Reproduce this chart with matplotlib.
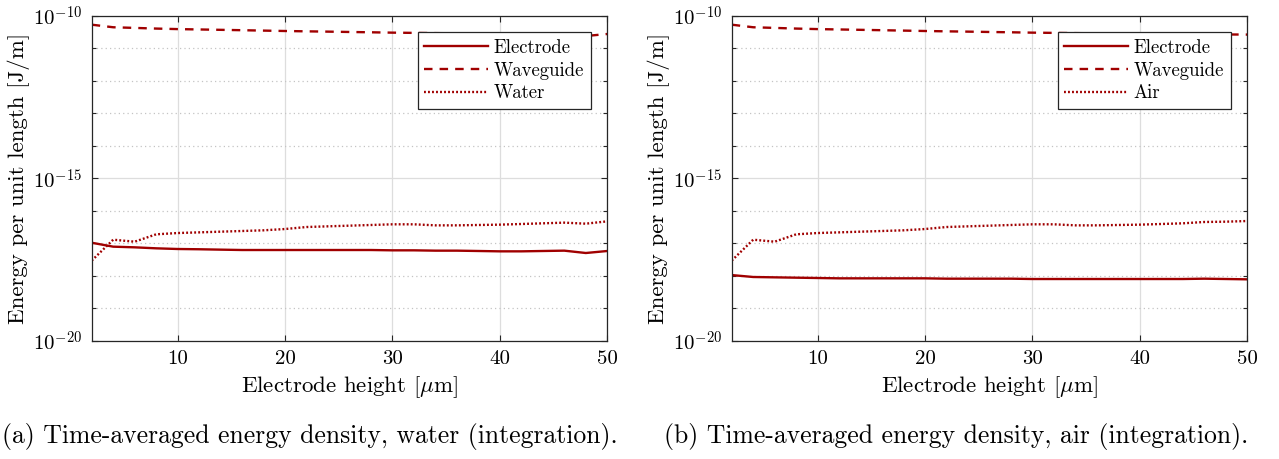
import matplotlib
matplotlib.use("Agg")
import matplotlib.pyplot as plt

plt.rcParams['font.family'] = ['cmr10']
plt.rcParams['mathtext.fontset'] = 'cm'
plt.rcParams['axes.formatter.use_mathtext'] = True

# ---- data ----
height = [2, 4, 6, 8, 10, 12, 14, 16, 18, 20, 22, 24, 26, 28, 30,
          32, 34, 36, 38, 40, 42, 44, 46, 48, 50]

water_electrode = [1.04e-17, 7.87e-18, 7.51e-18, 7.0e-18, 6.67e-18, 6.55e-18, 6.37e-18,
                   6.21e-18, 6.21e-18, 6.21e-18, 6.21e-18, 6.21e-18, 6.21e-18, 6.21e-18,
                   6.07e-18, 6.07e-18, 5.93e-18, 5.93e-18, 5.79e-18, 5.65e-18, 5.65e-18,
                   5.79e-18, 5.93e-18, 5.02e-18, 5.79e-18]
water_waveguide = [5.4e-11, 4.5e-11, 4.3e-11, 4.1e-11, 3.95e-11, 3.85e-11, 3.75e-11,
                   3.65e-11, 3.55e-11, 3.45e-11, 3.37e-11, 3.3e-11, 3.22e-11, 3.15e-11,
                   3.07e-11, 3.02e-11, 2.97e-11, 2.93e-11, 2.9e-11, 2.86e-11, 2.82e-11,
                   2.78e-11, 2.74e-11, 2.42e-11, 2.79e-11]
water_medium = [2.92e-18, 1.29e-17, 1.12e-17, 1.89e-17, 2.07e-17, 2.17e-17, 2.28e-17,
                2.39e-17, 2.51e-17, 2.75e-17, 3.17e-17, 3.33e-17, 3.49e-17, 3.66e-17,
                3.84e-17, 3.84e-17, 3.57e-17, 3.57e-17, 3.66e-17, 3.75e-17, 3.93e-17,
                4.12e-17, 4.32e-17, 4.02e-17, 4.74e-17]

air_electrode = [1.05e-18, 9.16e-19, 8.94e-19, 8.73e-19, 8.53e-19, 8.33e-19, 8.33e-19,
                 8.33e-19, 8.33e-19, 8.33e-19, 8.13e-19, 8.13e-19, 8.13e-19, 8.13e-19,
                 7.94e-19, 7.94e-19, 7.94e-19, 7.94e-19, 7.94e-19, 7.94e-19, 7.94e-19,
                 7.94e-19, 8.13e-19, 7.94e-19, 7.76e-19]
air_waveguide = [5.4e-11, 4.5e-11, 4.3e-11, 4.1e-11, 3.95e-11, 3.85e-11, 3.75e-11,
                 3.65e-11, 3.55e-11, 3.45e-11, 3.37e-11, 3.3e-11, 3.22e-11, 3.15e-11,
                 3.07e-11, 3.02e-11, 2.97e-11, 2.93e-11, 2.9e-11, 2.86e-11, 2.82e-11,
                 2.78e-11, 2.74e-11, 2.7e-11, 2.68e-11]
air_medium = [2.92e-18, 1.29e-17, 1.12e-17, 1.89e-17, 2.07e-17, 2.17e-17, 2.28e-17,
              2.39e-17, 2.51e-17, 2.75e-17, 3.17e-17, 3.33e-17, 3.49e-17, 3.66e-17,
              3.84e-17, 3.84e-17, 3.57e-17, 3.57e-17, 3.66e-17, 3.75e-17, 3.93e-17,
              4.12e-17, 4.53e-17, 4.63e-17, 4.85e-17]

xticks = [10, 20, 30, 40, 50]
ymajor = [1e-20, 1e-15, 1e-10]
ymajor_labels = [r'$10^{-20}$', r'$10^{-15}$', r'$10^{-10}$']
yminor = [1e-19, 1e-18, 1e-17, 1e-16, 1e-14, 1e-13, 1e-12, 1e-11]

panels = [
    (water_electrode, water_waveguide, water_medium, 'Water',
     '(a) Time-averaged energy density, water (integration).'),
    (air_electrode, air_waveguide, air_medium, 'Air',
     '(b) Time-averaged energy density, air (integration).'),
]

W, H = 1279, 459
fig = plt.figure(figsize=(W / 100, H / 100), dpi=100)

color = '#a00000'
spine_c = '#262626'
tick_fs = 15
label_fs = 16.5
cap_fs = 18.5

ax_lefts = [91.7, 731.7]
ax_w = 515.6
ax_top, ax_bot = 16.0, 340.7
caption_x = [309.5, 956.5]

for i, (el, wg, med, medname, cap) in enumerate(panels):
    ax = fig.add_axes([ax_lefts[i] / W, (H - ax_bot) / H, ax_w / W, (ax_bot - ax_top) / H])
    ax.plot(height, el, color=color, lw=1.7, ls='-', label='Electrode')
    ax.plot(height, wg, color=color, lw=1.7, ls=(0, (3.6, 3.0)), label='Waveguide')
    ax.plot(height, med, color=color, lw=1.7, ls=(0, (0.8, 0.9)), label=medname)
    ax.set_yscale('log')
    ax.set_xlim(2, 50)
    ax.set_ylim(1e-20, 1e-10)
    ax.set_xticks(xticks)
    ax.set_xticklabels([str(t) for t in xticks])
    ax.set_yticks(ymajor)
    ax.set_yticklabels(ymajor_labels)
    ax.set_yticks(yminor, minor=True)
    ax.set_yticklabels([], minor=True)
    ax.xaxis.set_minor_locator(matplotlib.ticker.NullLocator())
    ax.grid(True, which='major', color='#dddddd', lw=0.9, ls='-')
    ax.grid(True, which='minor', axis='y', color='#c4c4c4', lw=0.9, ls=(0, (1, 2.5)))
    ax.set_axisbelow(True)
    ax.tick_params(which='both', direction='in', top=True, right=True,
                   color=spine_c, labelsize=tick_fs, width=0.8)
    ax.tick_params(which='major', length=4.5, pad=7)
    ax.tick_params(which='minor', length=3)
    for s in ax.spines.values():
        s.set_color(spine_c)
        s.set_linewidth(0.9)
    ax.set_xlabel(r'Electrode height [$\mu$m]', fontsize=label_fs, labelpad=4)
    ax.set_ylabel('Energy per unit length [J/m]', fontsize=label_fs, labelpad=2)
    leg = ax.legend(loc='upper right', bbox_to_anchor=(0.9678, 0.9498),
                    borderaxespad=0, fontsize=13.5, handlelength=3.4,
                    handletextpad=0.3, labelspacing=0.26, borderpad=0.35,
                    fancybox=False, framealpha=1, edgecolor=spine_c)
    leg.get_frame().set_linewidth(0.9)
    fig.text(caption_x[i] / W, 1 - 437 / H, cap, ha='center', va='center', fontsize=cap_fs)

fig.savefig('out.png', dpi=100)
